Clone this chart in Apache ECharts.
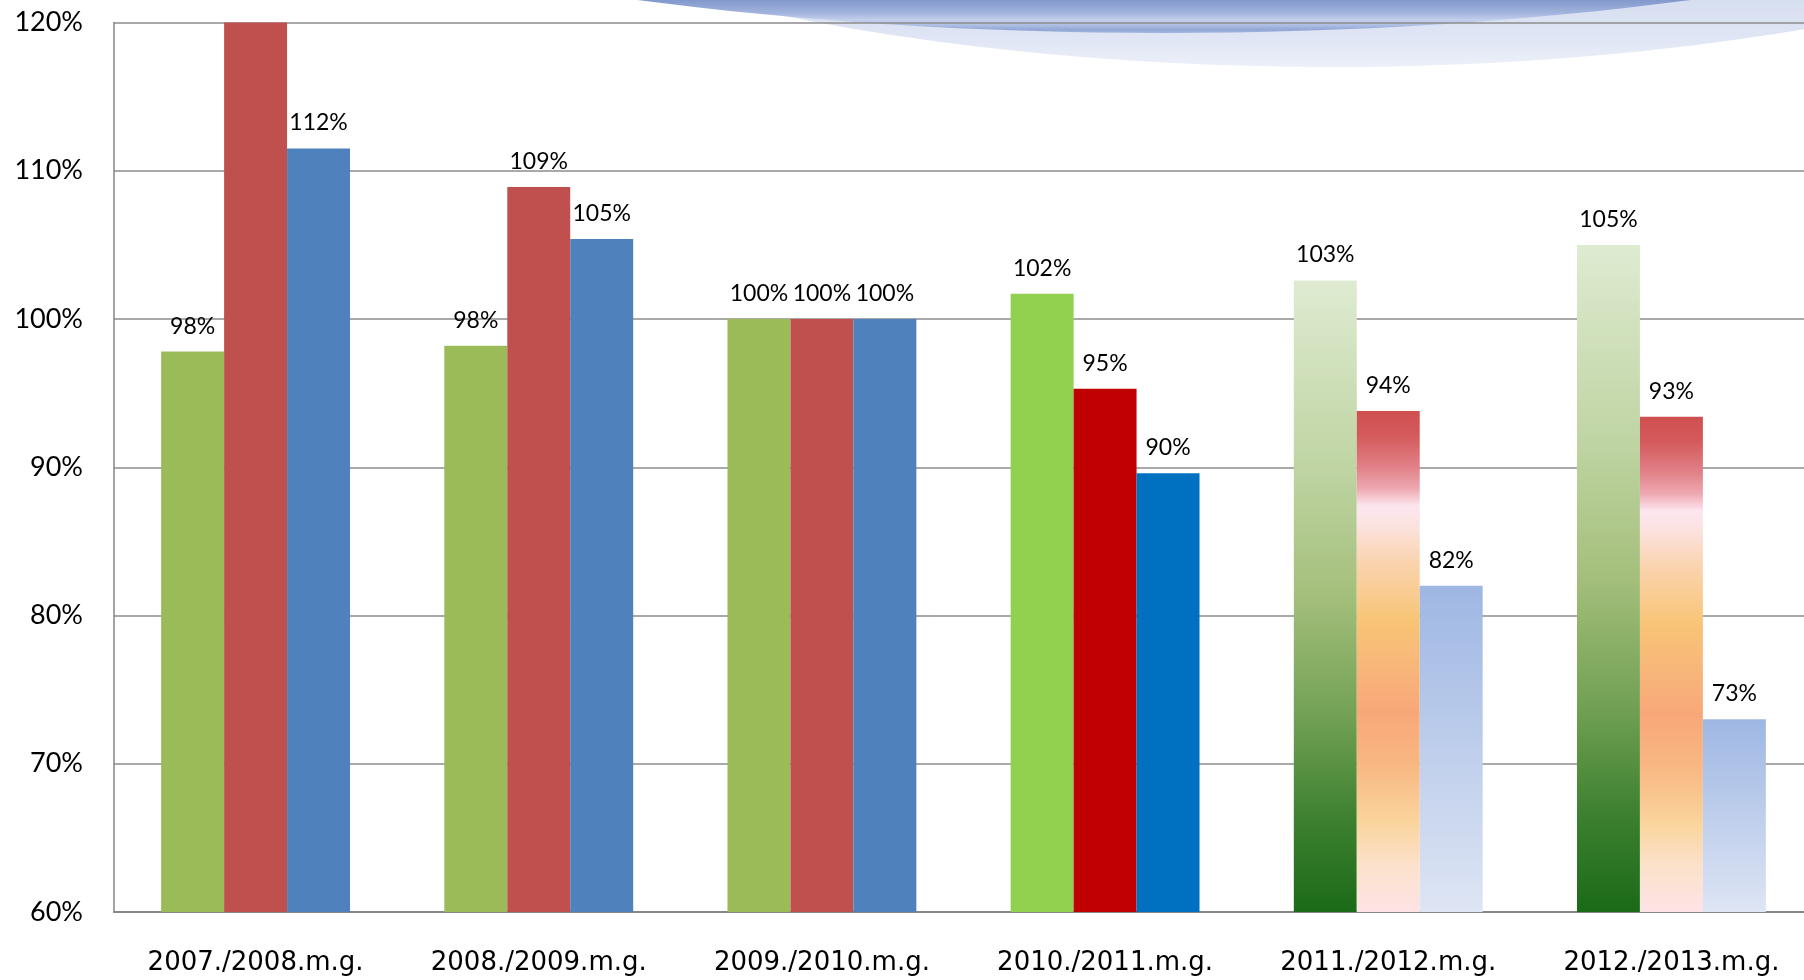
<!DOCTYPE html>
<html>
<head>
<meta charset="utf-8">
<script src="https://cdn.jsdelivr.net/npm/echarts@6/dist/echarts.min.js"></script>
<style>
html,body{margin:0;padding:0;background:#fff;}
#chart{width:1804px;height:980px;}
</style>
</head>
<body>
<div id="chart"></div>
<script>
// ---- data ----
var categories = ['2007./2008.m.g.', '2008./2009.m.g.', '2009./2010.m.g.', '2010./2011.m.g.', '2011./2012.m.g.', '2012./2013.m.g.'];
var greenValues = [97.8, 98.2, 100, 101.7, 102.6, 105.0];
var redValues   = [122, 108.9, 100, 95.3, 93.8, 93.4];
var blueValues  = [111.5, 105.4, 100, 89.6, 82.0, 73.0];
var yTicks = { min: 60, max: 120, interval: 10 };

// ---- styles ----
var G = echarts.graphic.LinearGradient;
var gradGreen = new G(0, 0, 0, 1, [
  {offset: 0, color: '#DEEBD1'}, {offset: 0.3, color: '#BFD4A2'}, {offset: 0.5, color: '#A4BF7B'},
  {offset: 0.7, color: '#6F9F52'}, {offset: 0.85, color: '#3E8130'}, {offset: 1, color: '#1A6A18'}]);
var gradRed = new G(0, 0, 0, 1, [
  {offset: 0, color: '#D05050'}, {offset: 0.05, color: '#D45A5B'}, {offset: 0.115, color: '#E2838A'},
  {offset: 0.155, color: '#EEA8B1'}, {offset: 0.19, color: '#FCE6EE'}, {offset: 0.225, color: '#FCE3E2'},
  {offset: 0.3, color: '#FAD4B0'}, {offset: 0.42, color: '#F8C475'}, {offset: 0.5, color: '#F8B87A'},
  {offset: 0.6, color: '#F8A878'}, {offset: 0.7, color: '#F8B682'}, {offset: 0.82, color: '#FAD49C'},
  {offset: 0.91, color: '#FBE2CC'}, {offset: 1, color: '#FDE3E5'}]);
var gradBlue = new G(0, 0, 0, 1, [
  {offset: 0, color: '#9EB7E3'}, {offset: 1, color: '#DEE5F4'}]);
var greenStyles = ['#9BBB59', '#9BBB59', '#9BBB59', '#92D050', gradGreen, gradGreen];
var redStyles   = ['#C0504D', '#C0504D', '#C0504D', '#C00000', gradRed, gradRed];
var blueStyles  = ['#4F81BD', '#4F81BD', '#4F81BD', '#0070C0', gradBlue, gradBlue];

var FONT = 'Lato, "Open Sans", sans-serif';
var CAT_FONT = '"DejaVu Sans", Lato, sans-serif';

function buildData(values, styles) {
  return values.map(function (v, i) {
    var item = { value: v, itemStyle: { color: styles[i] } };
    if (v > yTicks.max) item.label = { show: false };
    return item;
  });
}

function makeSeries(values, styles) {
  return {
    type: 'bar',
    data: buildData(values, styles),
    barGap: '0%',
    barCategoryGap: '33.3%',
    clip: true,
    label: {
      show: true,
      position: 'top',
      distance: 14,
      fontFamily: FONT,
      fontSize: 23,
      color: '#000',
      formatter: function (p) { return Math.round(p.value) + '%'; }
    }
  };
}

var chart = echarts.init(document.getElementById('chart'), null, { renderer: 'canvas' });
chart.setOption({
  backgroundColor: '#ffffff',
  animation: false,
  graphic: {
    z: -10,
    elements: [
      { type: 'ellipse', z: -10, silent: true,
        shape: { cx: 1330, cy: -400, rx: 1200, ry: 467 },
        style: { fill: new G(0, 0, 0, 67, [
          {offset: 0, color: '#D6DEF1'}, {offset: 0.6, color: '#E0E6F5'}, {offset: 1, color: '#ECF0F9'}], true) } },
      { type: 'ellipse', z: -9, silent: true,
        shape: { cx: 1164, cy: -350, rx: 1295, ry: 383 },
        style: { fill: new G(0, 0, 0, 33, [
          {offset: 0, color: '#8299CC'}, {offset: 0.4, color: '#A2B4DD'}, {offset: 0.6, color: '#C3CFEB'},
          {offset: 0.75, color: '#B0C0E4'}, {offset: 0.9, color: '#93A8D6'}, {offset: 1, color: '#A2B4DD'}], true) } }
    ]
  },
  grid: { left: 114, width: 1699, top: 22.5, bottom: 68, containLabel: false, outerBoundsMode: 'none' },
  xAxis: {
    type: 'category',
    data: categories,
    axisTick: { show: false },
    axisLine: { show: true, lineStyle: { color: '#868686', width: 2 } },
    axisLabel: { margin: 38, fontFamily: CAT_FONT, fontSize: 26, color: '#000' },
    splitLine: { show: false }
  },
  yAxis: {
    type: 'value',
    min: yTicks.min,
    max: yTicks.max,
    interval: yTicks.interval,
    axisLine: { show: true, lineStyle: { color: '#868686', width: 1.5 } },
    axisTick: { show: false },
    axisLabel: { margin: 31, fontFamily: FONT, fontSize: 27, color: '#000',
      formatter: function (v) { return v + '%'; } },
    splitLine: { show: true, lineStyle: { color: '#8C8C8C', width: 1.5 } }
  },
  series: [
    makeSeries(greenValues, greenStyles),
    makeSeries(redValues, redStyles),
    makeSeries(blueValues, blueStyles)
  ]
});
</script>
</body>
</html>
